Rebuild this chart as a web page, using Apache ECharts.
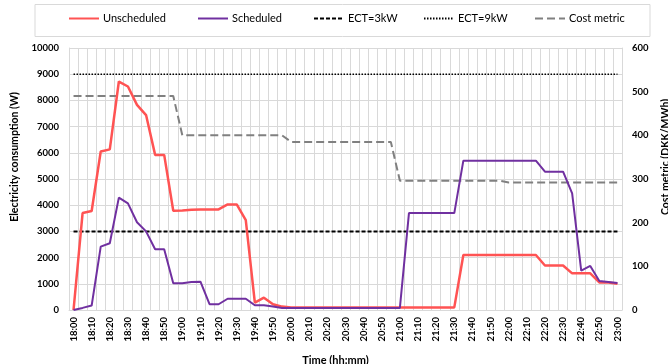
<!DOCTYPE html>
<html>
<head>
<meta charset="utf-8">
<script src="https://cdn.jsdelivr.net/npm/echarts@6/dist/echarts.min.js"></script>
<style>
html,body{margin:0;padding:0;background:#fff;}
#c{width:668px;height:364px;}
</style>
</head>
<body>
<div id="c"></div>
<script>
const times = ["18:00","18:05","18:10","18:15","18:20","18:25","18:30","18:35","18:40","18:45",
"18:50","18:55","19:00","19:05","19:10","19:15","19:20","19:25","19:30","19:35",
"19:40","19:45","19:50","19:55","20:00","20:05","20:10","20:15","20:20","20:25",
"20:30","20:35","20:40","20:45","20:50","20:55","21:00","21:05","21:10","21:15",
"21:20","21:25","21:30","21:35","21:40","21:45","21:50","21:55","22:00","22:05",
"22:10","22:15","22:20","22:25","22:30","22:35","22:40","22:45","22:50","22:55","23:00"];

const unscheduled = [0,3700,3780,6050,6130,8720,8530,7830,7440,5920,
5920,3790,3800,3830,3840,3840,3840,4030,4030,3430,
280,470,220,130,100,100,100,100,100,100,
100,100,100,100,100,100,100,100,100,100,
100,100,100,2100,2100,2100,2100,2100,2100,2100,
2100,2100,1700,1700,1700,1400,1400,1400,1050,1050,1000];

const scheduled = [0,80,170,2420,2550,4290,4070,3350,3000,2320,
2320,1020,1020,1070,1080,220,220,430,430,430,
180,180,130,80,80,80,80,80,80,80,
80,80,80,80,80,80,80,3700,3700,3700,
3700,3700,3700,5700,5700,5700,5700,5700,5700,5700,
5700,5700,5280,5280,5280,4450,1500,1680,1110,1070,1030];

const costMetric = [490,490,490,490,490,490,490,490,490,490,
490,490,400,400,400,400,400,400,400,400,
400,400,400,400,385,385,385,385,385,385,
385,385,385,385,385,385,296,296,296,296,
296,296,296,296,296,296,296,296,292,292,
292,292,292,292,292,292,292,292,292,292,292];

const ECT3 = 3000;
const ECT9 = 9000;
const leftTicks = {min:0, max:10000, interval:1000};
const rightTicks = {min:0, max:600, interval:100};

const FONT = 'Lato, "Open Sans", sans-serif';
const grid = '#D9D9D9';
const chart = echarts.init(document.getElementById('c'));

const legendBase = {
  top: 13, itemWidth: 30, itemHeight: 10, itemGap: 0,
  itemStyle: {opacity: 0},
  textStyle: {fontFamily: FONT, fontSize: 11, color: '#000', padding: [0,0,0,-1]},
  padding: 0
};
chart.setOption({
  animation: false,
  graphic: [{type:'rect', shape:{x:35, y:4.5, width:615, height:32}, style:{fill:'none', stroke:grid, lineWidth:1}, silent:true, z:-1}],
  legend: [
    Object.assign({left: 68, data:['Unscheduled']}, legendBase),
    Object.assign({left: 197, data:['Scheduled']}, legendBase),
    Object.assign({left: 313, data:['ECT=3kW']}, legendBase),
    Object.assign({left: 423, data:['ECT=9kW']}, legendBase),
    Object.assign({left: 534, data:['Cost metric']}, legendBase)
  ],
  grid: {left: 69, right: 46, top: 48, bottom: 54, containLabel: false, outerBoundsMode: 'none'},
  xAxis: {
    type: 'category', data: times, boundaryGap: true,
    name: 'Time (hh:mm)', nameLocation: 'middle', nameGap: 45,
    nameTextStyle: {fontFamily: FONT, fontSize: 11, fontWeight: 'bold', color: '#000', padding:[0,0,0,-20]},
    axisLine: {lineStyle: {color: grid}},
    axisTick: {show: false},
    axisLabel: {interval: 1, rotate: 90, fontFamily: FONT, fontSize: 9.5, fontWeight: 'bold', color: '#000', margin: 7},
    splitLine: {show: true, interval: 0, lineStyle: {color: grid}}
  },
  yAxis: [
    {
      type: 'value', min: leftTicks.min, max: leftTicks.max, interval: leftTicks.interval,
      name: 'Electricity consumption (W)', nameLocation: 'middle', nameGap: 45, nameRotate: 90,
      nameTextStyle: {fontFamily: FONT, fontSize: 10.5, fontWeight: 'bold', color: '#000', padding:[0,0,0,44]},
      axisLine: {show: true, lineStyle: {color: grid}},
      axisTick: {show: false},
      axisLabel: {fontFamily: FONT, fontSize: 9.5, fontWeight: 'bold', color: '#000', margin: 10,
        formatter: v => String(v)},
      splitLine: {show: true, lineStyle: {color: grid}}
    },
    {
      type: 'value', min: rightTicks.min, max: rightTicks.max, interval: rightTicks.interval, position: 'right',
      name: 'Cost metric (DKK/MWh)', nameLocation: 'middle', nameGap: 38, nameRotate: 90,
      nameTextStyle: {fontFamily: FONT, fontSize: 10.5, fontWeight: 'bold', color: '#000', padding:[0,0,0,44]},
      axisLine: {show: true, lineStyle: {color: grid}},
      axisTick: {show: false},
      axisLabel: {fontFamily: FONT, fontSize: 9.5, fontWeight: 'bold', color: '#000', margin: 10,
        formatter: v => String(v)},
      splitLine: {show: false}
    }
  ],
  series: [
    {name:'Unscheduled', type:'line', data: unscheduled, symbol:'none', z:3,
     lineStyle:{color:'#FF5353', width:2.5}, itemStyle:{color:'#FF5353'}},
    {name:'Scheduled', type:'line', data: scheduled, symbol:'none', z:4,
     lineStyle:{color:'#7030A0', width:2}, itemStyle:{color:'#7030A0'}},
    {name:'ECT=3kW', type:'line', data: times.map(() => ECT3), symbol:'none', z:2,
     lineStyle:{color:'#000', width:2, type:[4,2]}, itemStyle:{color:'#000'}},
    {name:'ECT=9kW', type:'line', data: times.map(() => ECT9), symbol:'none', z:2,
     lineStyle:{color:'#000', width:1.5, type:[1.5,1.5]}, itemStyle:{color:'#000'}},
    {name:'Cost metric', type:'line', yAxisIndex:1, data: costMetric, symbol:'none', z:2,
     lineStyle:{color:'#808080', width:2, type:[8,4]}, itemStyle:{color:'#808080'}}
  ]
});
</script>
</body>
</html>
